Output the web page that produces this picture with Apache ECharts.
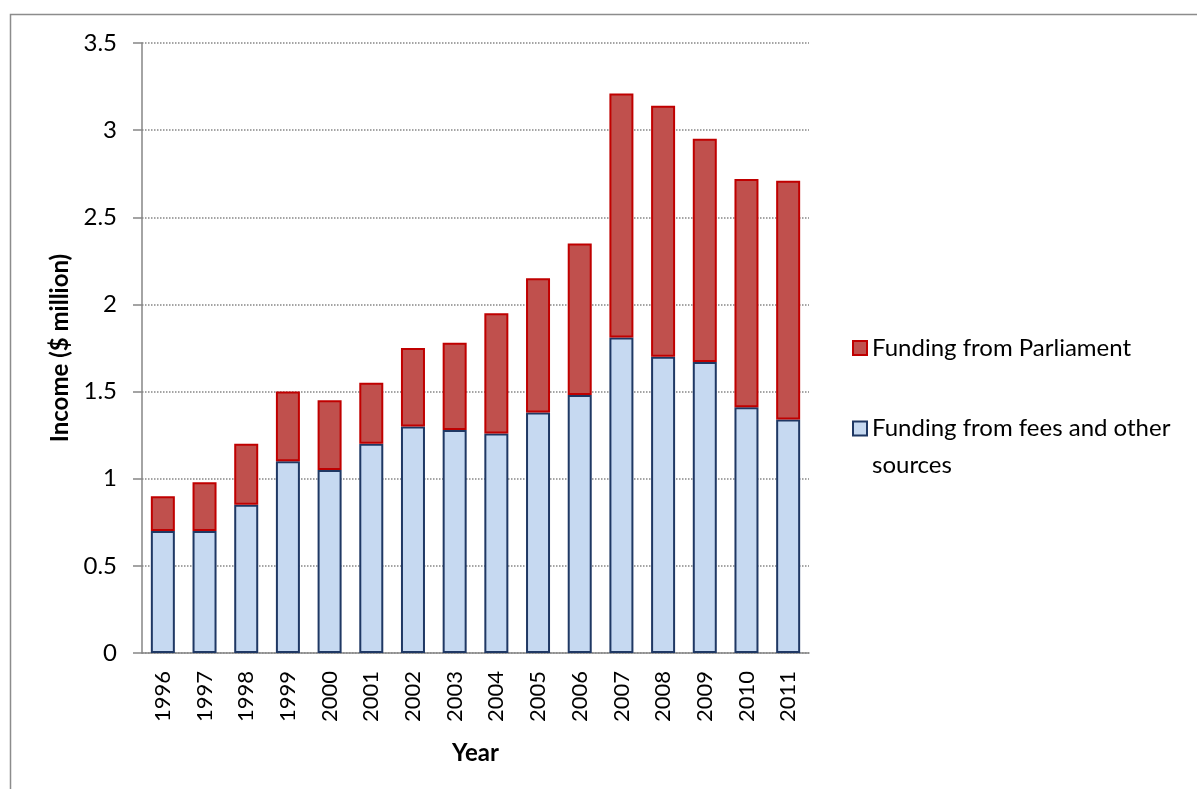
<!DOCTYPE html>
<html>
<head>
<meta charset="utf-8">
<script src="https://cdn.jsdelivr.net/npm/echarts@6/dist/echarts.min.js"></script>
<style>
  html, body { margin: 0; padding: 0; background: #fff; }
  #chart { width: 1197px; height: 789px; }
</style>
</head>
<body>
<div id="chart"></div>
<script>
// Income by year, stacked: fees and other sources at the bottom, Parliament on top ($ million)
const years = ['1996', '1997', '1998', '1999', '2000', '2001', '2002', '2003',
               '2004', '2005', '2006', '2007', '2008', '2009', '2010', '2011'];
const feesAndOther = [0.70, 0.70, 0.85, 1.10, 1.05, 1.20, 1.30, 1.28,
                      1.26, 1.38, 1.48, 1.81, 1.70, 1.67, 1.41, 1.34];
const parliament = [0.20, 0.28, 0.35, 0.40, 0.40, 0.35, 0.45, 0.50,
                    0.69, 0.77, 0.87, 1.40, 1.44, 1.28, 1.31, 1.37];
const yTicks = { min: 0, max: 3.5, interval: 0.5 };

const FONT = 'Lato';
const AXIS_GREY = '#868686';

const chart = echarts.init(document.getElementById('chart'), null, { renderer: 'canvas' });

chart.setOption({
  animation: false,
  backgroundColor: '#ffffff',
  textStyle: { fontFamily: FONT, color: '#000' },
  graphic: [
    {
      // outer chart frame
      type: 'rect',
      left: 8, top: 12,
      shape: { width: 1400, height: 1000 },
      style: { fill: 'none', stroke: '#8c8c8c', lineWidth: 1.5 },
      silent: true
    }
  ],
  grid: { left: 142, right: 388, top: 43, bottom: 136, containLabel: false },
  legend: [
    {
      data: ['Funding from Parliament'],
      orient: 'vertical',
      left: 852, top: 334,
      padding: 0,
      itemWidth: 14, itemHeight: 14,
      icon: 'rect',
      textStyle: { fontFamily: FONT, fontSize: 24, color: '#000', lineHeight: 28 },
      selectedMode: false
    },
    {
      data: ['Funding from fees and other sources'],
      orient: 'vertical',
      left: 852, top: 373,
      padding: 0,
      itemWidth: 14, itemHeight: 14,
      icon: 'rect',
      // blank first line keeps the swatch level with the first text line
      formatter: () => ' \nFunding from fees and other\nsources',
      textStyle: { fontFamily: FONT, fontSize: 24, color: '#000', lineHeight: 37 },
      selectedMode: false
    }
  ],
  xAxis: {
    type: 'category',
    data: years,
    name: 'Year',
    nameLocation: 'middle',
    nameGap: 88,
    nameTextStyle: { fontFamily: FONT, fontSize: 24, fontWeight: 'bold', color: '#000' },
    axisLine: { lineStyle: { color: AXIS_GREY, width: 1.5 } },
    axisTick: { show: false },
    axisLabel: { rotate: 90, fontSize: 22, color: '#000', margin: 18, fontFamily: FONT },
    splitLine: { show: false }
  },
  yAxis: {
    type: 'value',
    min: yTicks.min, max: yTicks.max, interval: yTicks.interval,
    name: 'Income ($ million)',
    nameLocation: 'middle',
    nameGap: 68,
    nameTextStyle: { fontFamily: FONT, fontSize: 24, fontWeight: 'bold', color: '#000' },
    axisLine: { show: true, lineStyle: { color: AXIS_GREY, width: 1.5 } },
    axisTick: { show: true, length: 9, lineStyle: { color: AXIS_GREY, width: 1.5 } },
    axisLabel: { fontSize: 24, color: '#000', margin: 25, fontFamily: FONT },
    splitLine: { show: true, lineStyle: { color: AXIS_GREY, width: 1.5, type: [1.5, 1.5] } }
  },
  series: [
    {
      name: 'Funding from fees and other sources',
      type: 'bar',
      stack: 'income',
      data: feesAndOther,
      barWidth: 24,
      itemStyle: { color: '#c6d9f1', borderColor: '#1f3864', borderWidth: 2 }
    },
    {
      name: 'Funding from Parliament',
      type: 'bar',
      stack: 'income',
      data: parliament,
      barWidth: 24,
      itemStyle: { color: '#c0504d', borderColor: '#c00000', borderWidth: 2 }
    }
  ]
});
</script>
</body>
</html>
